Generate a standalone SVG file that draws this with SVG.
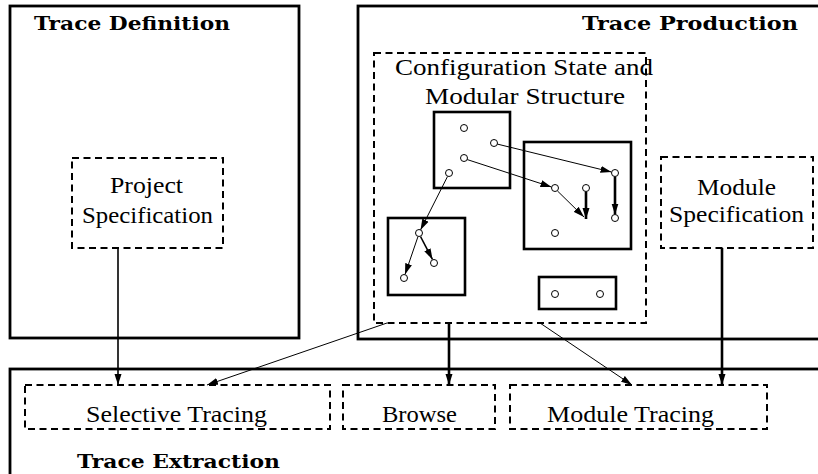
<svg xmlns="http://www.w3.org/2000/svg" width="818" height="474" viewBox="0 0 818 474">
  <style>
    .frame { fill: none; stroke: #000; stroke-width: 2.8; }
    .dash { fill: none; stroke: #000; stroke-width: 2; stroke-dasharray: 7 4.5; }
    .mod { fill: none; stroke: #000; stroke-width: 2.6; }
    .state { fill: #fff; stroke: #000; stroke-width: 1; }
    .thin { fill: none; stroke: #000; stroke-width: 1; marker-end: url(#head); }
    .thick { fill: none; stroke: #000; stroke-width: 2.6; marker-end: url(#head); }
    .mid { fill: none; stroke: #000; stroke-width: 1.6; marker-end: url(#head); }
    .title { font-family: "DejaVu Serif", "Liberation Serif", serif; font-weight: bold; font-size: 19px; fill: #000; }
    .label { font-family: "Liberation Serif", "DejaVu Serif", serif; font-weight: normal; font-size: 24px; fill: #000; }
  </style>
  <defs>
    <marker id="head" markerUnits="userSpaceOnUse" markerWidth="12" markerHeight="8" refX="11" refY="4" orient="auto">
      <path d="M0,0.5 L11,4 L0,7.5 Z" fill="#000"/>
    </marker>
  </defs>
  <rect width="818" height="474" fill="#fff"/>

  <!-- Trace Definition -->
  <g id="trace-definition">
    <rect class="frame" x="10" y="6" width="289" height="332"/>
    <text class="title" x="34" y="30" textLength="196" lengthAdjust="spacingAndGlyphs">Trace Definition</text>
  </g>
  <g id="project-specification">
    <rect class="dash" x="72" y="158" width="151" height="90"/>
    <text class="label" x="110" y="193" textLength="73" lengthAdjust="spacingAndGlyphs">Project</text>
    <text class="label" x="82" y="223" textLength="131" lengthAdjust="spacingAndGlyphs">Specification</text>
  </g>

  <!-- Trace Production -->
  <g id="trace-production">
    <rect class="frame" x="358" y="6" width="480" height="333"/>
    <text class="title" x="582" y="30" textLength="216" lengthAdjust="spacingAndGlyphs">Trace Production</text>
  </g>
  <g id="configuration-state">
    <rect class="dash" x="374" y="53" width="272" height="270"/>
    <text class="label" x="395" y="75" textLength="258" lengthAdjust="spacingAndGlyphs">Configuration State and</text>
    <text class="label" x="425" y="104" textLength="200" lengthAdjust="spacingAndGlyphs">Modular Structure</text>
  </g>
  <g id="module-a">
    <rect class="mod" x="434" y="112" width="76" height="76"/>
  </g>
  <g id="module-b">
    <rect class="mod" x="524" y="142" width="107" height="107"/>
  </g>
  <g id="module-c">
    <rect class="mod" x="388" y="218" width="77" height="77"/>
  </g>
  <g id="module-d">
    <rect class="mod" x="539" y="277" width="77" height="32"/>
  </g>
  <g id="module-specification">
    <rect class="dash" x="661" y="157" width="152" height="91"/>
    <text class="label" x="697" y="195" textLength="79" lengthAdjust="spacingAndGlyphs">Module</text>
    <text class="label" x="669" y="222" textLength="135" lengthAdjust="spacingAndGlyphs">Specification</text>
  </g>

  <!-- Trace Extraction -->
  <g id="trace-extraction">
    <rect class="frame" x="10" y="369" width="830" height="120"/>
    <text class="title" x="77" y="468" textLength="203" lengthAdjust="spacingAndGlyphs">Trace Extraction</text>
  </g>
  <g id="selective-tracing">
    <rect class="dash" x="25" y="385" width="305" height="44"/>
    <text class="label" x="86" y="422" textLength="181" lengthAdjust="spacingAndGlyphs">Selective Tracing</text>
  </g>
  <g id="browse">
    <rect class="dash" x="343" y="385" width="152" height="44"/>
    <text class="label" x="382" y="422" textLength="75" lengthAdjust="spacingAndGlyphs">Browse</text>
  </g>
  <g id="module-tracing">
    <rect class="dash" x="510" y="385" width="257" height="44"/>
    <text class="label" x="547" y="422" textLength="167" lengthAdjust="spacingAndGlyphs">Module Tracing</text>
  </g>

  <!-- connectors -->
  <g id="connectors">
    <!-- state transitions inside the configuration -->
    <line class="thin" x1="497" y1="144" x2="611.5" y2="172"/>
    <line class="thin" x1="467" y1="159.5" x2="551.5" y2="187"/>
    <line class="thin" x1="557.5" y1="191" x2="584" y2="217"/>
    <line class="thick" x1="586" y1="191.5" x2="586" y2="219"/>
    <line class="thick" x1="615" y1="176.5" x2="615" y2="214.5"/>
    <line class="thin" x1="447.5" y1="176.5" x2="420.5" y2="230"/>
    <line class="thin" x1="418" y1="236.5" x2="405" y2="274.5"/>
    <line class="mid" x1="420.5" y1="236.5" x2="432.5" y2="259.5"/>

    <!-- links into the extraction stage -->
    <line class="mid" x1="118" y1="248" x2="118" y2="385"/>
    <line class="thick" x1="449" y1="323" x2="449" y2="385"/>
    <line class="thick" x1="722" y1="248" x2="722" y2="385"/>
    <line class="thin" x1="387" y1="323" x2="207" y2="385"/>
    <line class="thin" x1="540" y1="323" x2="632" y2="385"/>
  </g>

  <!-- states -->
  <g id="states">
    <circle class="state" cx="464" cy="128" r="3.5"/>
    <circle class="state" cx="494" cy="143" r="3.5"/>
    <circle class="state" cx="464" cy="158" r="3.5"/>
    <circle class="state" cx="449" cy="173" r="3.5"/>
    <circle class="state" cx="615" cy="173" r="3.5"/>
    <circle class="state" cx="555" cy="188" r="3.5"/>
    <circle class="state" cx="586" cy="188" r="3.5"/>
    <circle class="state" cx="615" cy="218" r="3.5"/>
    <circle class="state" cx="555" cy="233" r="3.5"/>
    <circle class="state" cx="419" cy="233" r="3.5"/>
    <circle class="state" cx="434" cy="263" r="3.5"/>
    <circle class="state" cx="404" cy="278" r="3.5"/>
    <circle class="state" cx="555" cy="294" r="3.5"/>
    <circle class="state" cx="600" cy="294" r="3.5"/>
  </g>
</svg>
